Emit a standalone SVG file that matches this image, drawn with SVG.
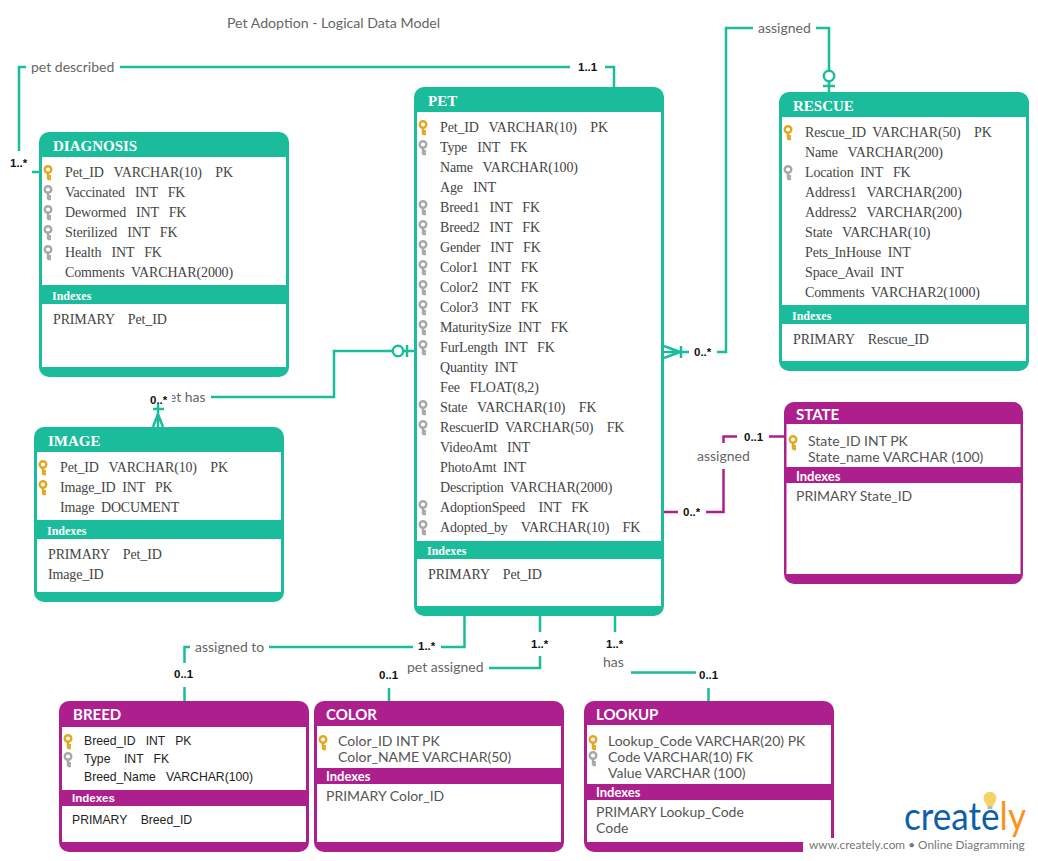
<svg xmlns="http://www.w3.org/2000/svg" width="1038" height="861" viewBox="0 0 1038 861">
<style>
text{white-space:pre}
.t{fill:#1abc9c}.p{fill:#ae1f8e}
.w{fill:#fff}
.c{fill:none;stroke-width:2.5}
.ct{stroke:#1abc9c}.cp{stroke:#ae1f8e}
.s{font:14px "Liberation Serif",serif;fill:#444;letter-spacing:-.15px;transform:translateY(.5px)}
.sh{font:bold 15px "Liberation Serif",serif;fill:#fff}
.si{font:bold 12px "Liberation Serif",serif;fill:#fff}
.l{font:14px Lato,sans-serif;fill:#555}
.lh{font:bold 15px Lato,sans-serif;fill:#fff}
.li{font:bold 13px Lato,sans-serif;fill:#fff}
.a{font:12.2px "Liberation Sans",sans-serif;fill:#222}
.ai{font:bold 11.5px "Liberation Sans",sans-serif;fill:#fff}
.lb{font:14px Lato,sans-serif;fill:#666}
.m{font:bold 11.5px "Liberation Sans",sans-serif;fill:#111}
</style>
<defs>
<g id="key"><circle cx="0" cy="-0.5" r="3.3" fill="none" stroke-width="2.4" stroke="currentColor"/><path d="M0 2.500V9.500M0 6.300H3M0 9H3" fill="none" stroke-width="2.4" stroke="currentColor"/></g>
</defs>
<rect width="1038" height="861" fill="#fff"/>
<text x="227" y="28" class="lb" style="font-size:14.150px">Pet Adoption - Logical Data Model</text>

<g id="connectors">
<path class="c ct" d="M614 87V67H605M570 67H120M26 67H19V151M32 172H39"/>
<path class="c ct" d="M664 352H689M681 346V358M664 346L680 352L664 358M717 352H726V28H753M816 28H829V70M829 82V92M823 86H835"/>
<circle cx="829" cy="76" r="5.200" fill="#fff" stroke="#1abc9c" stroke-width="2.500"/>
<path class="c ct" d="M211 397H334V351H393M404 351H414M407 345V357"/>
<circle cx="398" cy="351" r="5.200" fill="#fff" stroke="#1abc9c" stroke-width="2.500"/>
<path class="c ct" d="M158 403V427M153 409H164M158 414L153 427M158 414L163 427"/>
<path class="c cp" d="M769 436.500H784M723.500 443V436.500H737M723.500 469V512H706M678 512H664"/>
<path class="c ct" d="M464.500 616V647H441M413 647H269M190 647H184.500V663M184.500 687V701"/>
<path class="c ct" d="M540 616V632M540 656V668H489M389 688V701"/>
<path class="c ct" d="M615 616V632M631 672.500H696M708.500 688V701"/>
<text x="31" y="72" class="lb">pet described</text>
<text x="578" y="71" class="m">1..1</text>
<text x="10" y="167" class="m">1..*</text>
<text x="758" y="33" class="lb">assigned</text>
<text x="694" y="356" class="m">0..*</text>
<text x="161" y="402" class="lb">pet has</text>
<rect x="149" y="391" width="23" height="13" class="w"/>
<text x="150" y="404" class="m">0..*</text>
<text x="697" y="461" class="lb">assigned</text>
<text x="744" y="441" class="m">0..1</text>
<text x="683" y="516" class="m">0..*</text>
<text x="195" y="652" class="lb">assigned to</text>
<text x="418" y="650" class="m">1..*</text>
<text x="174" y="678" class="m">0..1</text>
<text x="407" y="672" class="lb">pet assigned</text>
<text x="531" y="648" class="m">1..*</text>
<text x="379" y="679" class="m">0..1</text>
<text x="603" y="667" class="lb">has</text>
<text x="606" y="648" class="m">1..*</text>
<text x="699" y="679" class="m">0..1</text>
</g>

<g id="diagnosis">
<rect x="39" y="132" width="250" height="245" rx="10" class="t"/><rect x="42" y="157" width="244" height="210" class="w"/><rect x="39" y="285" width="250" height="19" class="t"/>
<text x="53" y="151" class="sh">DIAGNOSIS</text>
<use href="#key" x="48" y="170" color="#e2a91f"/><use href="#key" x="48" y="190" color="#a8a8a8"/><use href="#key" x="48" y="210" color="#a8a8a8"/><use href="#key" x="48" y="230" color="#a8a8a8"/><use href="#key" x="48" y="250" color="#a8a8a8"/>
<text x="65" y="176" class="s">Pet_ID   VARCHAR(10)    PK</text>
<text x="65" y="196" class="s">Vaccinated   INT   FK</text>
<text x="65" y="216" class="s">Dewormed   INT   FK</text>
<text x="65" y="236" class="s">Sterilized   INT   FK</text>
<text x="65" y="256" class="s">Health   INT   FK</text>
<text x="65" y="276" class="s">Comments  VARCHAR(2000)</text>
<text x="52" y="300" class="si">Indexes</text>
<text x="53" y="323" class="s">PRIMARY    Pet_ID</text>
</g>

<g id="image">
<rect x="34" y="427" width="250" height="175" rx="10" class="t"/><rect x="37" y="452" width="244" height="140" class="w"/><rect x="34" y="520" width="250" height="19" class="t"/>
<text x="48" y="446" class="sh">IMAGE</text>
<use href="#key" x="43" y="465" color="#e2a91f"/><use href="#key" x="43" y="485" color="#e2a91f"/>
<text x="60" y="471" class="s">Pet_ID   VARCHAR(10)    PK</text>
<text x="60" y="491" class="s">Image_ID  INT   PK</text>
<text x="60" y="511" class="s">Image  DOCUMENT</text>
<text x="47" y="535" class="si">Indexes</text>
<text x="48" y="558" class="s">PRIMARY    Pet_ID</text>
<text x="48" y="578" class="s">Image_ID</text>
</g>

<g id="pet">
<rect x="414" y="87" width="250" height="529" rx="10" class="t"/><rect x="417" y="112" width="244" height="494" class="w"/><rect x="414" y="541" width="250" height="18" class="t"/>
<text x="428" y="106" class="sh">PET</text>
<use href="#key" x="423" y="125" color="#e2a91f"/>
<g color="#a8a8a8"><use href="#key" x="423" y="145"/><use href="#key" x="423" y="205"/><use href="#key" x="423" y="225"/><use href="#key" x="423" y="245"/><use href="#key" x="423" y="265"/><use href="#key" x="423" y="285"/><use href="#key" x="423" y="305"/><use href="#key" x="423" y="325"/><use href="#key" x="423" y="345"/><use href="#key" x="423" y="405"/><use href="#key" x="423" y="425"/><use href="#key" x="423" y="505"/><use href="#key" x="423" y="525"/></g>
<text x="440" y="131" class="s">Pet_ID   VARCHAR(10)    PK</text>
<text x="440" y="151" class="s">Type   INT   FK</text>
<text x="440" y="171" class="s">Name   VARCHAR(100)</text>
<text x="440" y="191" class="s">Age   INT</text>
<text x="440" y="211" class="s">Breed1   INT   FK</text>
<text x="440" y="231" class="s">Breed2   INT   FK</text>
<text x="440" y="251" class="s">Gender   INT   FK</text>
<text x="440" y="271" class="s">Color1   INT   FK</text>
<text x="440" y="291" class="s">Color2   INT   FK</text>
<text x="440" y="311" class="s">Color3   INT   FK</text>
<text x="440" y="331" class="s">MaturitySize  INT   FK</text>
<text x="440" y="351" class="s">FurLength  INT   FK</text>
<text x="440" y="371" class="s">Quantity  INT</text>
<text x="440" y="391" class="s">Fee   FLOAT(8,2)</text>
<text x="440" y="411" class="s">State   VARCHAR(10)    FK</text>
<text x="440" y="431" class="s">RescuerID  VARCHAR(50)    FK</text>
<text x="440" y="451" class="s">VideoAmt   INT</text>
<text x="440" y="471" class="s">PhotoAmt  INT</text>
<text x="440" y="491" class="s">Description  VARCHAR(2000)</text>
<text x="440" y="511" class="s">AdoptionSpeed    INT   FK</text>
<text x="440" y="531" class="s">Adopted_by    VARCHAR(10)    FK</text>
<text x="427" y="555" class="si">Indexes</text>
<text x="428" y="578" class="s">PRIMARY    Pet_ID</text>
</g>

<g id="rescue">
<rect x="779" y="92" width="250" height="279" rx="10" class="t"/><rect x="782" y="117" width="244" height="244" class="w"/><rect x="779" y="305" width="250" height="19" class="t"/>
<text x="793" y="111" class="sh">RESCUE</text>
<use href="#key" x="788" y="130" color="#e2a91f"/><use href="#key" x="788" y="170" color="#a8a8a8"/>
<text x="805" y="136" class="s">Rescue_ID  VARCHAR(50)    PK</text>
<text x="805" y="156" class="s">Name   VARCHAR(200)</text>
<text x="805" y="176" class="s">Location  INT   FK</text>
<text x="805" y="196" class="s">Address1   VARCHAR(200)</text>
<text x="805" y="216" class="s">Address2   VARCHAR(200)</text>
<text x="805" y="236" class="s">State   VARCHAR(10)</text>
<text x="805" y="256" class="s">Pets_InHouse  INT</text>
<text x="805" y="276" class="s">Space_Avail  INT</text>
<text x="805" y="296" class="s">Comments  VARCHAR2(1000)</text>
<text x="792" y="320" class="si">Indexes</text>
<text x="793" y="343" class="s">PRIMARY    Rescue_ID</text>
</g>

<g id="state">
<rect x="784" y="402" width="239" height="182" rx="10" class="p"/><rect x="786.500" y="424" width="234" height="150" class="w"/><rect x="784" y="467" width="239" height="16" class="p"/>
<text x="796" y="420" class="lh">STATE</text>
<use href="#key" x="793" y="440" color="#e2a91f"/>
<text x="808" y="446" class="l">State_ID INT PK</text>
<text x="808" y="462" class="l">State_name VARCHAR (100)</text>
<text x="796" y="481" class="li">Indexes</text>
<text x="796" y="501" class="l">PRIMARY State_ID</text>
</g>

<g id="breed">
<rect x="59" y="701" width="250" height="151" rx="10" class="p"/><rect x="62" y="727" width="244" height="115" class="w"/><rect x="59" y="790" width="250" height="16" class="p"/>
<text x="73" y="720" class="lh">BREED</text>
<use href="#key" x="68" y="739" color="#e2a91f"/><use href="#key" x="68" y="757" color="#a8a8a8"/>
<text x="84" y="745" class="a">Breed_ID   INT   PK</text>
<text x="84" y="763" class="a">Type    INT   FK</text>
<text x="84" y="781" class="a">Breed_Name   VARCHAR(100)</text>
<text x="72" y="802" class="ai">Indexes</text>
<text x="72" y="824" class="a">PRIMARY    Breed_ID</text>
</g>

<g id="color">
<rect x="314" y="701" width="250" height="151" rx="10" class="p"/><rect x="317" y="726" width="244" height="116" class="w"/><rect x="314" y="768" width="250" height="16" class="p"/>
<text x="326" y="720" class="lh">COLOR</text>
<use href="#key" x="323" y="740" color="#e2a91f"/>
<text x="338" y="746" class="l">Color_ID INT PK</text>
<text x="338" y="762" class="l">Color_NAME VARCHAR(50)</text>
<text x="326" y="781" class="li">Indexes</text>
<text x="326" y="801" class="l">PRIMARY Color_ID</text>
</g>

<g id="lookup">
<rect x="584" y="701" width="250" height="151" rx="10" class="p"/><rect x="587" y="725" width="244" height="117" class="w"/><rect x="584" y="784" width="250" height="16" class="p"/>
<text x="596" y="720" class="lh">LOOKUP</text>
<use href="#key" x="593" y="740" color="#e2a91f"/><use href="#key" x="593" y="756" color="#a8a8a8"/>
<text x="608" y="746" class="l">Lookup_Code VARCHAR(20) PK</text>
<text x="608" y="762" class="l">Code VARCHAR(10) FK</text>
<text x="608" y="778" class="l">Value VARCHAR (100)</text>
<text x="596" y="797" class="li">Indexes</text>
<text x="596" y="817" class="l">PRIMARY Lookup_Code</text>
<text x="596" y="833" class="l">Code</text>
</g>

<g id="logo">
<rect x="803" y="838" width="240" height="30" rx="6" class="w"/>
<path d="M985.500 803a6.500 6.500 0 1 1 9 0l-1.500 3h-6z" fill="#f5d264"/><rect x="987.500" y="806" width="5" height="3" fill="#b9b9b9"/>
<text x="904" y="830" textLength="122" lengthAdjust="spacingAndGlyphs" style="font:400 38px Lato,sans-serif;fill:#0f5fa8">create<tspan style="fill:#f7941d">ly</tspan></text>
<text x="809" y="849" style="font:11.860px Lato,sans-serif;fill:#777">www.creately.com • Online Diagramming</text>
</g>
</svg>
